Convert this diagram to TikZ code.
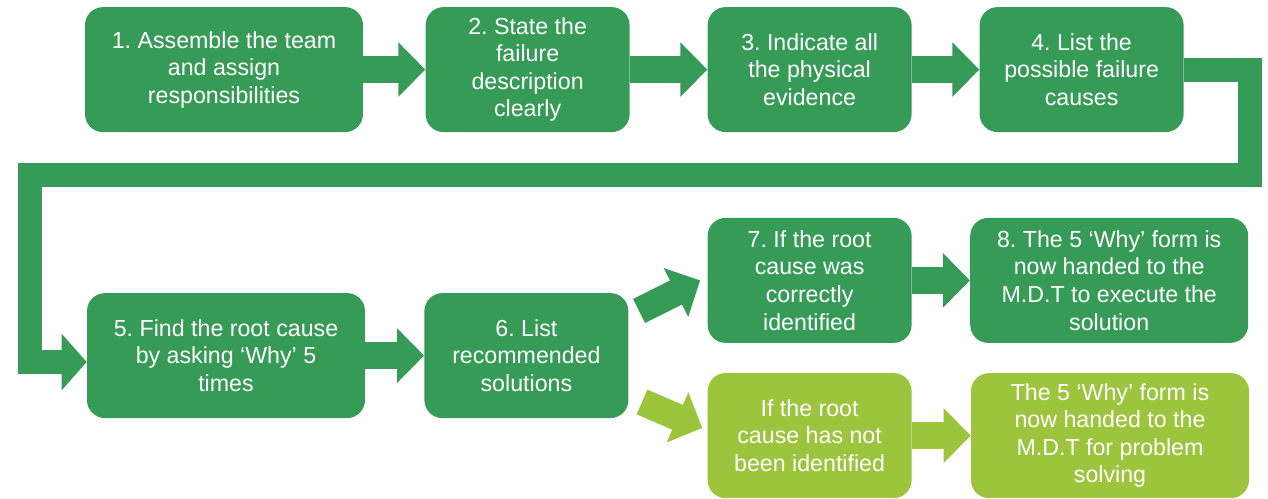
\documentclass[tikz,border=0pt]{standalone}
\usepackage{fontspec}
\setmainfont{Liberation Sans}
\frenchspacing
\usetikzlibrary{arrows.meta}
\definecolor{stepgreen}{RGB}{54,155,87}
\definecolor{altgreen}{RGB}{156,196,60}
\begin{document}
\begin{tikzpicture}[
  box/.style={rectangle, rounded corners=0.45cm, fill=stepgreen, text=white, align=center,
    minimum height=3.125cm, inner sep=2pt, font=\fontsize{16.5}{19.6}\selectfont},
  wide/.style={box, minimum width=6.95cm},
  narrow/.style={box, minimum width=5.1cm},
  alt/.style={fill=altgreen},
  flow/.style={draw=stepgreen, line width=0.675cm, -{Triangle[length=0.675cm,width=1.325cm]}},
  loop/.style={draw=stepgreen, line width=0.6cm, line join=miter, -{Triangle[length=0.625cm,width=1.375cm]}},
]
\useasboundingbox (0,0) rectangle (31.7,-12.475);
% top row
\node[wide]   (box1) at (5.6,-1.74)  {1. Assemble the team\\and assign\\responsibilities};
\node[narrow] (box2) at (13.19,-1.74) {2. State the\\failure\\description\\clearly};
\node[narrow] (box3) at (20.24,-1.74) {3. Indicate all\\the physical\\evidence};
\node[narrow] (box4) at (27.04,-1.74) {4. List the\\possible failure\\causes};
% bottom rows
\node[wide]   (box5) at (5.65,-8.89)  {5. Find the root cause\\by asking ‘Why’ 5\\times};
\node[narrow] (box6) at (13.16,-8.89) {6. List\\recommended\\solutions};
\node[narrow] (box7) at (20.24,-7.01) {7. If the root\\cause was\\correctly\\identified};
\node[wide]   (box8) at (27.73,-7.01) {8. The 5 ‘Why’ form is\\now handed to the\\M.D.T to execute the\\solution};
\node[narrow,alt] (box9)  at (20.24,-10.89) {If the root\\cause has not\\been identified};
\node[wide,alt]   (box10) at (27.75,-10.89) {The 5 ‘Why’ form is\\now handed to the\\M.D.T for problem\\solving};

\coordinate (turnR) at (31.25,-4.375);
\coordinate (turnL) at (0.74,-4.375);
\coordinate (forkup) at (15.975,-7.775);
\coordinate (forkdn) at (16.05,-10.05);

\draw[flow] (box1) -- (box2);
\draw[flow] (box2) -- (box3);
\draw[flow] (box3) -- (box4);
\draw[loop] (box4.east) -| (turnR) -- (turnL) |- ([yshift=-0.16cm]box5.west);
\draw[flow] (box5) -- (box6);
\draw[flow] (forkup) -- ([xshift=-0.18cm]box7.west);
\draw[flow,draw=altgreen] (forkdn) -- ([xshift=-0.125cm,yshift=0.19cm]box9.west);
\draw[flow] (box7) -- (box8);
\draw[flow,draw=altgreen] (box9) -- (box10);
\end{tikzpicture}
\end{document}
